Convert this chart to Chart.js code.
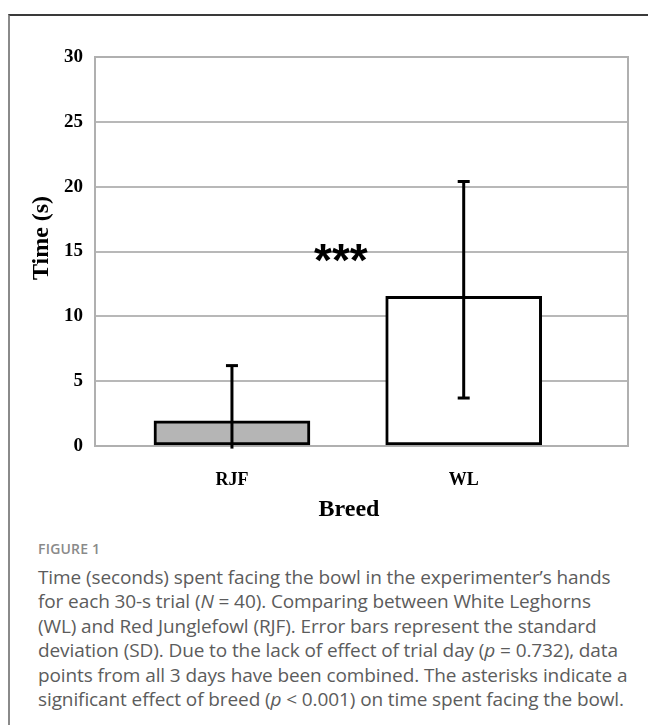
<!DOCTYPE html>
<html><head><meta charset="utf-8">
<script src="https://cdn.jsdelivr.net/npm/chart.js@4"></script>
<style>
html,body{margin:0;padding:0;background:#fff;}
body{width:648px;height:725px;position:relative;overflow:hidden;}
#frame{position:absolute;left:8px;top:14px;width:700px;height:800px;border-top:2px solid #3a3a3a;border-left:2px solid #8a8a8a;}
#wrap{position:absolute;left:0;top:0;width:648px;height:530px;}
#cap{position:absolute;left:38px;top:538px;font-family:'Open Sans',sans-serif;color:#5c5c5c;}
.fig{font-size:14px;font-weight:600;color:#8a8a8a;line-height:22px;margin-bottom:4.75px;letter-spacing:0.2px;}
.ln{font-size:19px;line-height:24.5px;white-space:nowrap;letter-spacing:-0.1px;}
</style></head>
<body>
<div id="frame"></div>
<div id="wrap"><canvas id="c" width="648" height="530"></canvas></div>
<div id="cap">
<div class="fig">FIGURE 1</div>
<div class="ln">Time (seconds) spent facing the bowl in the experimenter’s hands</div>
<div class="ln">for each 30-s trial (<i>N</i> = 40). Comparing between White Leghorns</div>
<div class="ln">(WL) and Red Junglefowl (RJF). Error bars represent the standard</div>
<div class="ln">deviation (SD). Due to the lack of effect of trial day (<i>p</i> = 0.732), data</div>
<div class="ln">points from all 3 days have been combined. The asterisks indicate a</div>
<div class="ln">significant effect of breed (<i>p</i> &lt; 0.001) on time spent facing the bowl.</div>
</div>
<script>
// ---- data ----
const breeds = ['RJF', 'WL'];
const meanTime = [1.95, 11.55];
const sdUpper = [6.2, 20.4];
const sdLower = [-0.2, 3.7];
const barFill = ['#b5b5b5', '#ffffff'];
const yTicks = [0, 5, 10, 15, 20, 25, 30];
const signifText = '***';
const signifAt = {x: 1.47, y: 15};
const yTitle = 'Time (s)';
const xTitle = 'Breed';

const serif = "'Liberation Serif','Times New Roman',serif";

const framePlugin = {
  id: 'frameBox',
  beforeDatasetsDraw(chart) {
    const a = chart.chartArea, c = chart.ctx;
    c.save();
    c.strokeStyle = '#b0b0b0';
    c.lineWidth = 2;
    c.strokeRect(a.left, a.top, a.right - a.left, a.bottom - a.top);
    c.restore();
  }
};

const errPlugin = {
  id: 'errBars',
  afterDatasetsDraw(chart) {
    const c = chart.ctx, xs = chart.scales.x, ys = chart.scales.y;
    c.save();
    c.strokeStyle = '#000';
    c.lineWidth = 3;
    breeds.forEach((b, i) => {
      const x = xs.getPixelForValue(i + 1);
      const yh = ys.getPixelForValue(sdUpper[i]);
      const yl = ys.getPixelForValue(sdLower[i]);
      c.beginPath(); c.moveTo(x, yh); c.lineTo(x, yl); c.stroke();
      const cap = 6;
      [[sdUpper[i], yh], [sdLower[i], yl]].forEach(([v, y]) => {
        if (v >= ys.min && v <= ys.max) {
          c.beginPath(); c.moveTo(x - cap, y); c.lineTo(x + cap, y); c.stroke();
        }
      });
    });
    c.restore();
  }
};

const textPlugin = {
  id: 'texts',
  afterDraw(chart) {
    const c = chart.ctx, xs = chart.scales.x, ys = chart.scales.y;
    c.save();
    c.font = "bold 46px 'Liberation Sans',Arial,sans-serif";
    c.fillStyle = '#000';
    c.textAlign = 'center';
    c.textBaseline = 'alphabetic';
    const m = c.measureText(signifText);
    const cx = xs.getPixelForValue(signifAt.x);
    const cy = ys.getPixelForValue(signifAt.y);
    const mid = (m.actualBoundingBoxAscent - m.actualBoundingBoxDescent) / 2;
    c.fillText(signifText, cx, cy + mid + 1);
    c.font = 'bold 24px ' + serif;
    c.textBaseline = 'middle';
    c.fillText(xTitle, 349, 510);
    c.translate(42, 238);
    c.rotate(-Math.PI / 2);
    c.fillText(yTitle, 0, 0);
    c.restore();
  }
};

new Chart(document.getElementById('c'), {
  type: 'bar',
  data: {
    datasets: [{
      data: breeds.map((b, i) => ({x: i + 1, y: meanTime[i]})),
      backgroundColor: barFill,
      borderColor: '#000',
      borderWidth: 3,
      borderSkipped: false,
      barThickness: 156
    }]
  },
  options: {
    responsive: false,
    animation: false,
    devicePixelRatio: 1,
    layout: {padding: {left: 0, right: 20, top: 57, bottom: 0}},
    plugins: {legend: {display: false}, tooltip: {enabled: false}},
    scales: {
      x: {
        type: 'linear', min: 0.409, max: 2.709, offset: false,
        grid: {display: false, drawTicks: false},
        border: {display: false},
        afterBuildTicks: s => { s.ticks = breeds.map((b, i) => ({value: i + 1})); },
        ticks: {
          callback: v => breeds[v - 1] ?? '',
          font: {family: serif, weight: 'bold', size: 18},
          color: '#000', padding: 24, maxRotation: 0, autoSkip: false
        },
        afterFit: s => { s.height = 84; }
      },
      y: {
        min: 0, max: 30,
        afterBuildTicks: s => { s.ticks = yTicks.map(v => ({value: v})); },
        grid: {color: '#b8b8b8', lineWidth: 2, drawTicks: false},
        border: {display: false},
        ticks: {font: {family: serif, weight: 'bold', size: 19}, color: '#000', padding: 12},
        afterFit: s => { s.width = 95; }
      }
    }
  },
  plugins: [framePlugin, errPlugin, textPlugin]
});
</script>
</body></html>
